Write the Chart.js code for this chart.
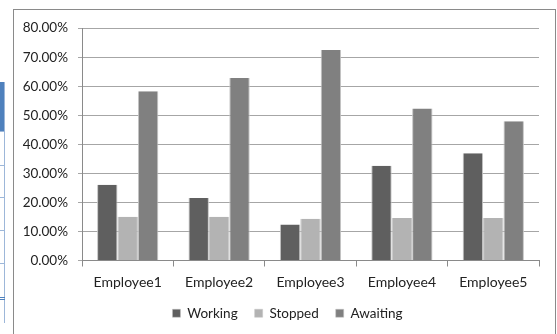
<!DOCTYPE html>
<html>
<head>
<meta charset="utf-8">
<script src="https://cdn.jsdelivr.net/npm/chart.js@4"></script>
<style>
  html, body { margin: 0; padding: 0; background: #fff; overflow: hidden; }
  body { width: 557px; height: 334px; position: relative; }
  /* sheet cells peeking out behind the chart */
  .sheet-head { position: absolute; left: 0; top: 82px; width: 4px; height: 49px; background: #4f81bd; }
  .sheet-vline { position: absolute; left: 4px; top: 82px; width: 1px; height: 241px; background: #9db7d9; }
  .sheet-hline { position: absolute; left: 0; width: 5px; height: 1px; background: #9db7d9; }
  .sheet-dbl { position: absolute; left: 0; top: 297px; width: 5px; height: 3px; border-top: 1px solid #4f81bd; border-bottom: 1px solid #4f81bd; box-sizing: border-box; }
  .frame { position: absolute; left: 13px; top: 9px; width: 541px; height: 340px; border: 1px solid #8a8a8a; background: #fff; }
  .box { position: absolute; left: 14px; top: 10px; width: 541px; height: 324px; }
  canvas { display: block; }
</style>
</head>
<body>
<div class="sheet-head"></div>
<div class="sheet-vline"></div>
<div class="sheet-hline" style="top:131px"></div>
<div class="sheet-hline" style="top:165px"></div>
<div class="sheet-hline" style="top:197px"></div>
<div class="sheet-hline" style="top:230px"></div>
<div class="sheet-hline" style="top:263px"></div>
<div class="sheet-dbl"></div>
<div class="frame"></div>
<div class="box"><canvas id="status-chart" width="541" height="324"></canvas></div>
<script>
// share of time per state, in percent
const employees = ['Employee1', 'Employee2', 'Employee3', 'Employee4', 'Employee5']
const working = [26.1, 21.5, 12.4, 32.6, 36.9]
const stopped = [15.1, 15.1, 14.4, 14.6, 14.6]
const awaiting = [58.3, 62.8, 72.5, 52.3, 47.9]
const yTicks = [0, 10, 20, 30, 40, 50, 60, 70, 80]

const FAMILY = 'Lato, "Liberation Sans", sans-serif'
const FONT = { family: FAMILY, size: 14 }
const TEXT = '#222'

function series(label, data, color) {
  return {
    label,
    data,
    backgroundColor: color,
    borderColor: '#c4c4c4',
    borderWidth: { left: 1, right: 1, top: 0, bottom: 0 },
    borderSkipped: false,
  }
}

// legend sits centred on the whole frame, not on the padded box
const legendShift = {
  id: 'legendShift',
  afterLayout(chart) {
    const lg = chart.legend
    if (!lg) return
    lg.left += 11
    lg.right += 11
  }
}

new Chart(document.getElementById('status-chart'), {
  type: 'bar',
  data: {
    labels: employees,
    datasets: [
      series('Working', working, '#5f5f5f'),
      series('Stopped', stopped, '#b3b3b3'),
      series('Awaiting', awaiting, '#808080'),
    ]
  },
  options: {
    responsive: false,
    animation: false,
    devicePixelRatio: 1,
    datasets: { bar: { categoryPercentage: 0.67, barPercentage: 1 } },
    layout: { padding: { top: 17, right: 16, left: 0, bottom: 4 } },
    scales: {
      x: {
        grid: { drawOnChartArea: false, drawTicks: true, tickLength: 6, color: '#8a8a8a', offset: true },
        border: { color: '#8a8a8a' },
        ticks: { font: FONT, color: TEXT, padding: 8, maxRotation: 0, autoSkip: false },
        afterFit: (s) => { s.height = 29 }
      },
      y: {
        min: 0,
        max: 80,
        afterBuildTicks: (s) => { s.ticks = yTicks.map(v => ({ value: v })) },
        grid: { color: '#a6a6a6', tickLength: 4 },
        border: { color: '#8a8a8a' },
        ticks: {
          font: { family: FAMILY, size: 13.5 },
          color: TEXT,
          padding: 10,
          autoSkip: false,
          callback: (v) => v.toFixed(2) + '%'
        },
        afterFit: (s) => { s.width = 68 }
      }
    },
    plugins: {
      legend: {
        position: 'bottom',
        labels: { font: { family: FAMILY, size: 13.5 }, color: TEXT, boxWidth: 8, boxHeight: 8, padding: 17 }
      },
      tooltip: { enabled: false }
    }
  },
  plugins: [legendShift]
})
</script>
</body>
</html>
